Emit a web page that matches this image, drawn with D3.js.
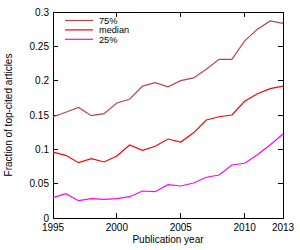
<!DOCTYPE html>
<html><head><meta charset="utf-8">
<script src="https://cdn.jsdelivr.net/npm/d3@7"></script>
<style>body{margin:0;background:#fff;}svg{display:block;font-family:"Liberation Sans",Arial,sans-serif;}</style>
</head><body>
<svg id="c" width="300" height="250"></svg>
<script>
const years = [1995,1996,1997,1998,1999,2000,2001,2002,2003,2004,2005,2006,2007,2008,2009,2010,2011,2012,2013];
const p75 = [0.1475,0.154,0.161,0.149,0.152,0.1675,0.173,0.192,0.197,0.191,0.200,0.204,0.2165,0.231,0.231,0.258,0.275,0.287,0.2835];
const median = [0.096,0.0913,0.0806,0.0864,0.0816,0.0903,0.1063,0.0985,0.1044,0.115,0.1107,0.124,0.1427,0.1475,0.150,0.170,0.181,0.1883,0.192];
const p25 = [0.0296,0.0354,0.0252,0.0281,0.0272,0.0281,0.031,0.0393,0.0383,0.0485,0.0466,0.051,0.0593,0.0626,0.0772,0.0797,0.0922,0.1067,0.1223];
const xTicks = [1995,2000,2005,2010,2013];
const yTicks = [0,0.05,0.1,0.15,0.2,0.25,0.3];
const seriesNames = ["75%","median","25%"];
const seriesColors = ["#b5474b","#ff0000","#ff00ff"];
const seriesData = [p75, median, p25];

const svg = d3.select("#c");
const L=53, R=283, T=12, B=218;
const x = d3.scaleLinear().domain([1995,2013]).range([L,R]);
const y = d3.scaleLinear().domain([0,0.3]).range([B,T]);
const fmtY = d => d===0 ? "0" : String(+d.toFixed(2));

const g = svg.append("g");
const tk = 5;
g.selectAll(".yt").data(yTicks).join("g").each(function(d){
  const s=d3.select(this);
  s.append("line").attr("x1",L).attr("x2",L+tk).attr("y1",y(d)).attr("y2",y(d)).attr("stroke","#000").attr("stroke-width",1).attr("shape-rendering","crispEdges");
  s.append("line").attr("x1",R-tk).attr("x2",R).attr("y1",y(d)).attr("y2",y(d)).attr("stroke","#000").attr("stroke-width",1).attr("shape-rendering","crispEdges");
  s.append("text").attr("x",L-4).attr("y",y(d)).attr("dy","0.35em").attr("text-anchor","end").attr("font-size",10).text(fmtY(d));
});
g.selectAll(".xt").data(xTicks).join("g").each(function(d){
  const s=d3.select(this);
  s.append("line").attr("x1",x(d)).attr("x2",x(d)).attr("y1",B).attr("y2",B-tk).attr("stroke","#000").attr("stroke-width",1).attr("shape-rendering","crispEdges");
  s.append("line").attr("x1",x(d)).attr("x2",x(d)).attr("y1",T).attr("y2",T+tk).attr("stroke","#000").attr("stroke-width",1).attr("shape-rendering","crispEdges");
  s.append("text").attr("x",x(d)).attr("y",231).attr("text-anchor","middle").attr("font-size",10).text(d);
});
g.append("rect").attr("x",L).attr("y",T).attr("width",R-L).attr("height",B-T).attr("fill","none").attr("stroke","#000").attr("stroke-width",1).attr("shape-rendering","crispEdges");

const line = d3.line().x((d,i)=>x(years[i])).y(d=>y(d));
seriesData.forEach((s,i)=>{
  g.append("path").datum(s).attr("d",line).attr("fill","none").attr("stroke",seriesColors[i]).attr("stroke-width",1.2);
});

seriesNames.forEach((n,i)=>{
  const yy = 20.5 + i*9.4;
  g.append("line").attr("x1",65).attr("x2",93).attr("y1",yy).attr("y2",yy).attr("stroke",seriesColors[i]).attr("stroke-width",1.2);
  g.append("text").attr("x",99).attr("y",yy).attr("dy","0.35em").attr("font-size",9.2).text(n);
});

svg.append("text").attr("x",(L+R)/2).attr("y",243).attr("text-anchor","middle").attr("font-size",10).text("Publication year");
svg.append("text").attr("transform",`translate(12,${(T+B)/2}) rotate(-90)`).attr("text-anchor","middle").attr("font-size",10).text("Fraction of top-cited articles");
</script>
</body></html>
